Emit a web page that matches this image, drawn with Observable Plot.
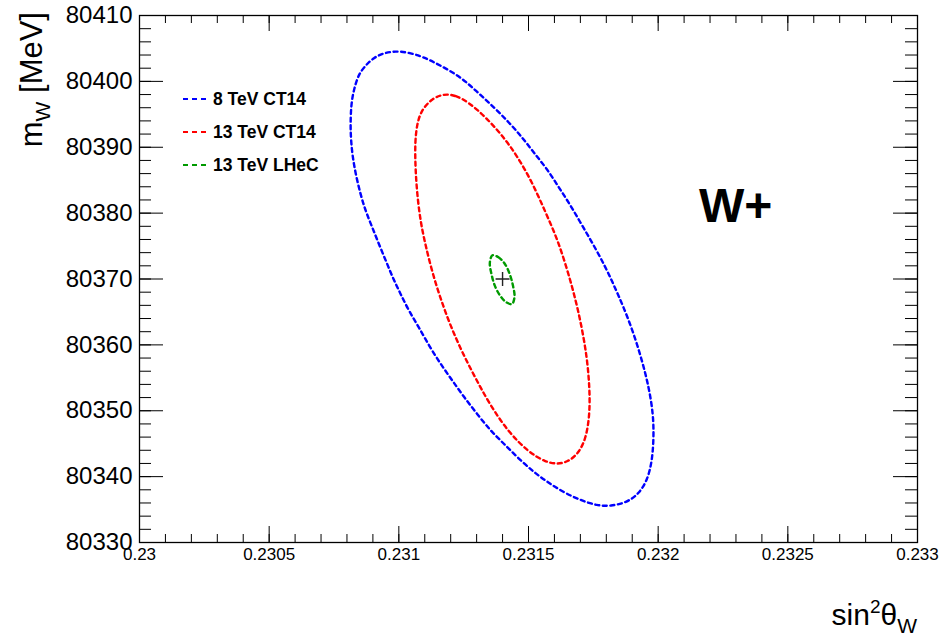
<!DOCTYPE html>
<html><head><meta charset="utf-8">
<script src="https://cdn.jsdelivr.net/npm/d3@7"></script>
<script src="https://cdn.jsdelivr.net/npm/@observablehq/plot@0.6"></script>
<style>body{margin:0;background:#fff;} #chart{width:942px;height:643px;}</style>
</head><body><div id="chart"></div>
<script>
// ---- data ----
const xTickValues = [0.23, 0.2305, 0.231, 0.2315, 0.232, 0.2325, 0.233];
const xTickLabels = ["0.23", "0.2305", "0.231", "0.2315", "0.232", "0.2325", "0.233"];
const yTickValues = [80330, 80340, 80350, 80360, 80370, 80380, 80390, 80400, 80410];
const yTickLabels = ["80330", "80340", "80350", "80360", "80370", "80380", "80390", "80400", "80410"];
const seriesNames = ["8 TeV CT14", "13 TeV CT14", "13 TeV LHeC"];
const seriesColors = ["#0000ff", "#ff0000", "#009a00"];

// contour points: [sin2thetaW, mW]
const ct14_8TeV = [
  [0.230987, 80404.6], [0.231037, 80404.4], [0.231096, 80403.7], [0.231161, 80402.4],
  [0.231238, 80400.7], [0.231302, 80398.4], [0.231366, 80396.1], [0.231424, 80393.8],
  [0.231476, 80391.5], [0.231520, 80389.2], [0.231572, 80386.7], [0.231617, 80383.9],
  [0.231662, 80381.2], [0.231707, 80378.1], [0.231752, 80375.1], [0.231797, 80371.8],
  [0.231830, 80369.0], [0.231867, 80365.7], [0.231906, 80361.7], [0.231938, 80357.6],
  [0.231964, 80353.6], [0.231981, 80349.5], [0.231983, 80346.0], [0.231977, 80342.4],
  [0.231958, 80339.4], [0.231925, 80337.4], [0.231881, 80336.1], [0.231816, 80335.5],
  [0.231765, 80335.6], [0.231701, 80336.4], [0.231636, 80337.6], [0.231572, 80339.2],
  [0.231520, 80340.7], [0.231463, 80342.7], [0.231405, 80345.0], [0.231353, 80347.0],
  [0.231302, 80349.5], [0.231251, 80352.1], [0.231206, 80354.6], [0.231161, 80357.1],
  [0.231116, 80359.9], [0.231077, 80362.7], [0.231038, 80365.2], [0.231006, 80367.8],
  [0.230981, 80369.8], [0.230955, 80372.3], [0.230923, 80375.3], [0.230897, 80377.9],
  [0.230871, 80380.4], [0.230852, 80382.9], [0.230833, 80386.0], [0.230820, 80389.0],
  [0.230814, 80392.0], [0.230814, 80394.1], [0.230816, 80396.1], [0.230822, 80397.9],
  [0.230833, 80399.6], [0.230846, 80401.1], [0.230871, 80402.4], [0.230903, 80403.6],
  [0.230942, 80404.3]
];
const ct14_13TeV = [
  [0.231173, 80398.1], [0.231219, 80397.9], [0.231270, 80396.8], [0.231334, 80394.6],
  [0.231399, 80391.8], [0.231456, 80388.7], [0.231514, 80384.7], [0.231566, 80380.1],
  [0.231611, 80376.1], [0.231649, 80371.5], [0.231681, 80367.0], [0.231707, 80362.4],
  [0.231726, 80357.9], [0.231735, 80353.8], [0.231737, 80350.0], [0.231724, 80346.0],
  [0.231693, 80343.5], [0.231650, 80342.2], [0.231611, 80341.9], [0.231566, 80342.2],
  [0.231501, 80343.7], [0.231424, 80346.7], [0.231353, 80350.8], [0.231296, 80354.9],
  [0.231244, 80358.9], [0.231199, 80362.9], [0.231161, 80367.0], [0.231129, 80371.0],
  [0.231103, 80375.1], [0.231084, 80378.6], [0.231071, 80382.7], [0.231064, 80386.7],
  [0.231062, 80390.8], [0.231071, 80393.8], [0.231090, 80395.8], [0.231129, 80397.4]
];
const lhec_13TeV = [
  [0.231361, 80373.6], [0.231384, 80373.3], [0.231407, 80372.4], [0.231427, 80370.8],
  [0.231440, 80369.0], [0.231446, 80367.3], [0.231436, 80366.2], [0.231413, 80366.5],
  [0.231390, 80367.5], [0.231370, 80369.0], [0.231357, 80370.8], [0.231351, 80372.5]
];
const centralValue = [[0.2314, 80370]];

// ---- layout ----
const W = 942, H = 643;
const mL = 139, mR = 25, mT = 15, mB = 101;
const pw = W - mL - mR, ph = H - mT - mB;
const font = "'Liberation Sans', Arial, Helvetica, sans-serif";

const xMinor = d3.range(0, 31).map(i => +(0.23 + i * 0.0001).toFixed(5));
const yMinor = d3.range(0, 41).map(i => 80330 + i * 2);
const xLab = new Map(xTickValues.map((v, i) => [v, xTickLabels[i]]));
const yLab = new Map(yTickValues.map((v, i) => [v, yTickLabels[i]]));

const crossSymbol = {
  draw(ctx, size) {
    const r = Math.sqrt(size / Math.PI);
    ctx.moveTo(-r, 0); ctx.lineTo(r, 0);
    ctx.moveTo(0, -r); ctx.lineTo(0, r);
  }
};

const toObj = a => a.map(([x, y]) => ({x, y}));
const series = [ct14_8TeV, ct14_13TeV, lhec_13TeV];
const curves = ["basis-closed", "basis-closed", "catmull-rom-closed"];
const dash = "4,3.6";

const tickStyle = {stroke: "#000", strokeWidth: 1};
const plot = Plot.plot({
  width: W, height: H,
  marginLeft: mL, marginRight: mR, marginTop: mT, marginBottom: mB,
  style: {fontFamily: font, background: "#fff"},
  x: {domain: [0.23, 0.233], axis: null},
  y: {domain: [80330, 80410], axis: null},
  marks: [
    // bottom & top ticks
    Plot.ruleX(xMinor, {x: d => d, insetTop: ph - 8, ...tickStyle}),
    Plot.ruleX(xTickValues, {x: d => d, insetTop: ph - 16, ...tickStyle}),
    Plot.ruleX(xMinor, {x: d => d, insetBottom: ph - 8, ...tickStyle}),
    Plot.ruleX(xTickValues, {x: d => d, insetBottom: ph - 16, ...tickStyle}),
    // left & right ticks
    Plot.ruleY(yMinor, {y: d => d, insetRight: pw - 12, ...tickStyle}),
    Plot.ruleY(yTickValues, {y: d => d, insetRight: pw - 24, ...tickStyle}),
    Plot.ruleY(yMinor, {y: d => d, insetLeft: pw - 12, ...tickStyle}),
    Plot.ruleY(yTickValues, {y: d => d, insetLeft: pw - 24, ...tickStyle}),
    Plot.frame({stroke: "#000", strokeWidth: 1.3}),
    Plot.axisX(xTickValues, {anchor: "bottom", tickSize: 0, tickPadding: 5, fontSize: 17,
      tickFormat: d => xLab.get(d), label: null}),
    Plot.axisY(yTickValues, {anchor: "left", tickSize: 0, tickPadding: 7, fontSize: 24,
      tickFormat: d => yLab.get(d), label: null}),
    ...series.map((s, i) => Plot.line(toObj(s), {x: "x", y: "y", curve: curves[i],
      stroke: seriesColors[i], strokeWidth: 2.4, strokeDasharray: dash})),
    Plot.dot(toObj(centralValue), {x: "x", y: "y", symbol: crossSymbol, r: 7,
      stroke: "#222", strokeWidth: 1.4, fill: "none"})
  ]
});
document.getElementById("chart").appendChild(plot);

// ---- annotations: legend, labels ----
const svg = d3.select(plot);
const g = svg.append("g").attr("font-family", font).attr("text-anchor", "start");
seriesNames.forEach((name, i) => {
  const cy = 99 + i * 33;
  g.append("line").attr("x1", 183).attr("x2", 209).attr("y1", cy).attr("y2", cy)
    .attr("stroke", seriesColors[i]).attr("stroke-width", 2.2).attr("stroke-dasharray", "5,4");
  g.append("text").attr("x", 213).attr("y", cy + 6.3).attr("font-size", 17.5)
    .attr("font-weight", "bold").attr("fill", "#000").text(name);
});
g.append("text").attr("x", 699).attr("y", 222).attr("font-size", 48)
  .attr("font-weight", "bold").attr("fill", "#000").text("W+");

// x title
const xt = g.append("text").attr("x", 917).attr("y", 625).attr("font-size", 30)
  .attr("text-anchor", "end").attr("fill", "#000");
xt.append("tspan").text("sin");
xt.append("tspan").attr("font-size", 19).attr("dy", -12).text("2");
xt.append("tspan").attr("dy", 12).text("θ");
xt.append("tspan").attr("font-size", 21).attr("dy", 8).text("W");

// y title
const yt = g.append("text").attr("transform", "translate(42,12) rotate(-90)")
  .attr("font-size", 31).attr("text-anchor", "end").attr("fill", "#000");
yt.append("tspan").text("m");
yt.append("tspan").attr("font-size", 21).attr("dy", 8).text("W");
yt.append("tspan").attr("dy", -8).text(" [MeV]");
</script>
</body></html>
